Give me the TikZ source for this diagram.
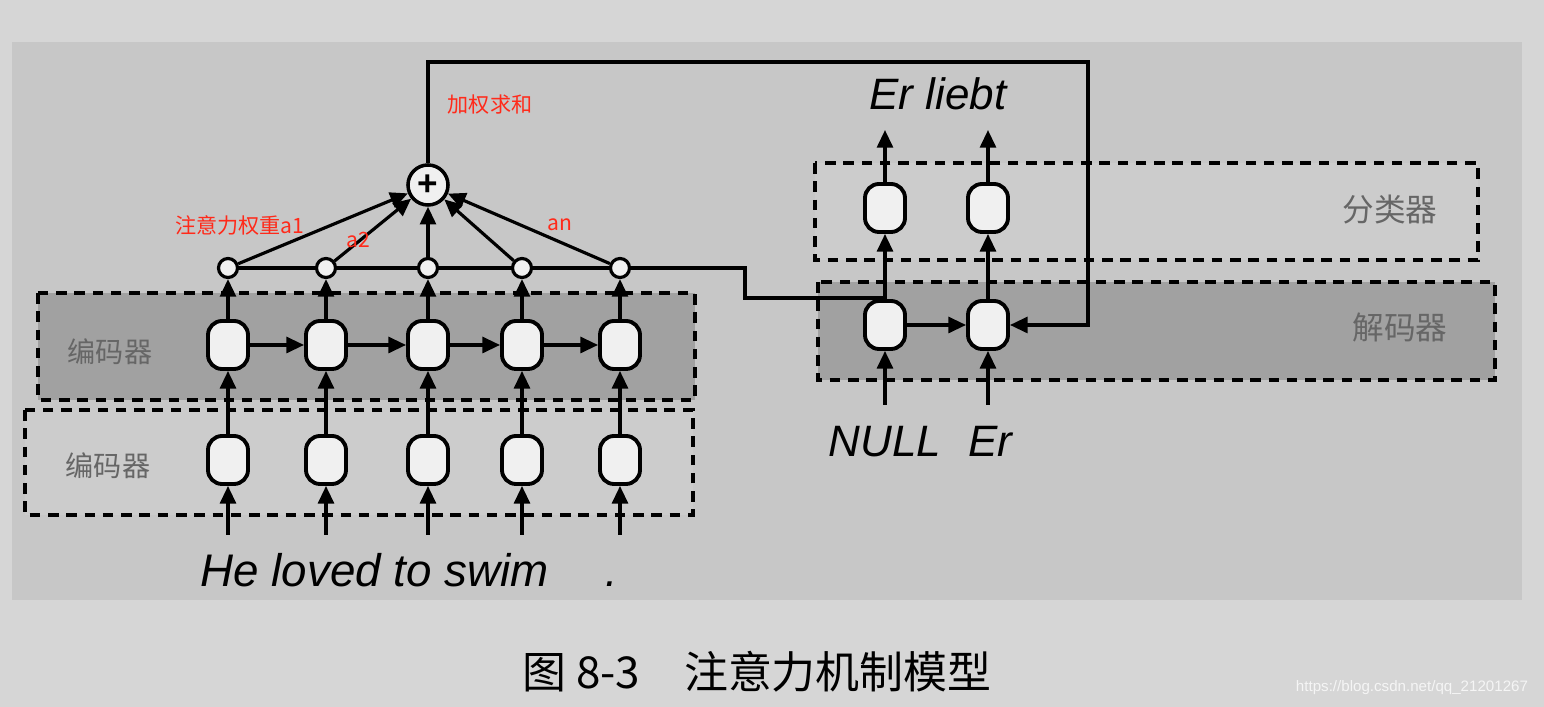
\documentclass[tikz,border=0pt]{standalone}
\usepackage{fontspec}
\setmainfont{Liberation Sans}
\newfontfamily\cjk{Noto Sans CJK SC}
\usetikzlibrary{arrows.meta,positioning,calc}
\definecolor{cpage}{gray}{0.84}
\definecolor{cpanel}{gray}{0.78}
\definecolor{cdark}{gray}{0.63}
\definecolor{clight}{gray}{0.80}
\definecolor{ccell}{gray}{0.94}
\definecolor{ctag}{gray}{0.40}
\definecolor{cnote}{HTML}{FF2A1A}

\begin{document}
\begin{tikzpicture}[x=0.01cm, y=-0.01cm,
  cell/.style={draw, line width=1.1pt, fill=ccell, rounded corners=4pt,
               minimum width=0.4cm, minimum height=0.48cm, inner sep=0pt},
  gate/.style={circle, draw, line width=0.9pt, fill=ccell, minimum size=0.19cm, inner sep=0pt},
  layer/.style={draw, dash pattern=on 3pt off 2.2pt, line width=1.1pt},
  flow/.style={-{Triangle[length=5pt, width=4.5pt]}, line width=0.9pt},
  wire/.style={line width=0.9pt},
  tag/.style={font=\cjk\fontsize{#1}{#1}\selectfont, text=ctag},
  tag/.default=9,
  word/.style={font=\itshape\fontsize{12.5}{12.5}\selectfont, inner sep=0pt},
  note/.style={font=\cjk\fontsize{6}{6}\selectfont, text=cnote, inner sep=0pt},
]

% ------------------------------------------------------------ page
\fill[cpage] (0,0) rectangle (1544,707);
\fill[cpanel] (12,42) rectangle (1522,600);
\useasboundingbox (0,0) rectangle (1544,707);

% ------------------------------------------------------------ layers
\draw[layer, fill=clight] (25,410) rectangle (693,515);
\draw[layer, fill=cdark] (38,293) rectangle (695,400);
\draw[layer, fill=clight] (815,163) rectangle (1478,260);
\draw[layer, fill=cdark] (818,282) rectangle (1495,380);
\node[tag=8] (tenc) at (110,352) {编码器};
\node[tag=8] (temb) at (108,466) {编码器};
\node[tag] (tcls) at (1390,210) {分类器};
\node[tag] (tdec) at (1400,328) {解码器};

% ------------------------------------------------------------ encoder
\foreach \i/\x in {1/228,2/326,3/428,4/522,5/620} {
  \node[cell] (e\i) at (\x,460) {};
  \node[cell] (h\i) at (\x,345) {};
  \node[gate] (w\i) at (\x,268) {};
  \coordinate (in\i) at (\x,535);
  \draw[flow] (in\i) -- (e\i);
  \draw[flow] (e\i) -- (h\i);
  \draw[flow] (h\i) -- (w\i);
}
\foreach \i/\j in {1/2,2/3,3/4,4/5}
  \draw[flow] (h\i) -- (h\j);
\draw[wire] (w1) -- (w2) -- (w3) -- (w4) -- (w5);

% ------------------------------------------------------------ attention
\node[gate, minimum size=0.4cm, line width=1pt] (sum) at (428,185)
  {\bfseries\fontsize{10}{10}\selectfont +};
\foreach \i in {1,...,5}
  \draw[flow] (w\i) -- (sum);
\node[note] (nsum) at (490,105) {加权求和};
\node[note] (na1) at (240,225) {注意力权重a1};
\node[note] (na2) at (358,240) {a2};
\node[note] (nan) at (560,225) {an};

% ------------------------------------------------------------ decoder
\node[cell] (d1) at (885,325) {};
\node[cell] (d2) at (988,325) {};
\node[cell] (c1) at (885,208) {};
\node[cell] (c2) at (988,208) {};
\coordinate (dn1) at (885,405);
\coordinate (dn2) at (988,405);
\coordinate (out1) at (885,130);
\coordinate (out2) at (988,130);
\draw[flow] (dn1) -- (d1);
\draw[flow] (dn2) -- (d2);
\draw[flow] (d1) -- (d2);
\draw[flow] (d1) -- (c1);
\draw[flow] (d2) -- (c2);
\draw[flow] (c1) -- (out1);
\draw[flow] (c2) -- (out2);

% context into the decoder, weighted sum fed back
\coordinate (ctx) at (885,298);
\draw[wire] (w5) -- ++(125,0) |- (ctx);
\coordinate (fb) at (1088,62);
\draw[flow] (sum.north) |- (fb) |- (d2.east);

% ------------------------------------------------------------ words
\node[word, font=\itshape\fontsize{13}{13}\selectfont, anchor=base west] (src) at (200,587) {He loved to swim};
\node[word, anchor=base] (stop) at (612,587) {.};
\node[word, anchor=base] (tgt) at (938,110) {Er liebt};
\node[word, anchor=base] (null) at (885,457) {NULL};
\node[word, anchor=base] (er) at (990,457) {Er};

% ------------------------------------------------------------ caption
\node[font=\cjk\fontsize{12.5}{12.5}\selectfont] (cap) at (757,672) {图 8-3\hspace{1em}注意力机制模型};
\node[font=\fontsize{4.3}{4.3}\selectfont, text=white!92!gray] (mark) at (1412,688) {https://blog.csdn.net/qq\_21201267};

\end{tikzpicture}
\end{document}
